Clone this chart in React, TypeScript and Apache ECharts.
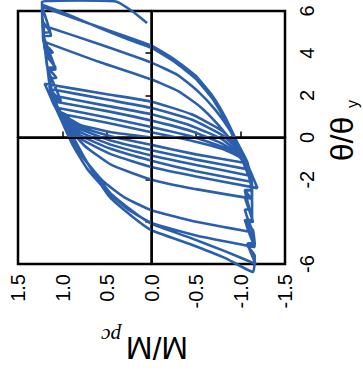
import React, { useEffect, useRef } from "react";
import * as echarts from "echarts";

// Axis ticks
const mTicks = [1.5, 1.0, 0.5, 0.0, -0.5, -1.0, -1.5];
const thetaTicks = [-6, -4, -2, 0, 2, 4, 6];
const hiddenThetaLabels = [-4];

// Hysteresis path, [M/Mpc, theta/theta_y], cycle by cycle
const cycle1 = [[0, 0], [0.45, 0.25], [0.8, 0.6], [1.0, 1.1],
  [0.5, 0.7], [0, 0.25], [-0.45, -0.15], [-0.8, -0.55], [-0.98, -0.9], [-1.04, -1.2]];
const cycle2 = [[-0.5, -0.8], [0, -0.35], [0.45, 0.05], [0.8, 0.5], [0.98, 0.95], [1.05, 1.4],
  [0.5, 0.95], [0, 0.5], [-0.45, 0.05], [-0.8, -0.45], [-1.0, -0.95], [-1.07, -1.5]];
const cycle3 = [[-0.5, -1.05], [0, -0.6], [0.45, -0.15], [0.8, 0.4], [1.0, 1.0], [1.08, 1.7],
  [0.5, 1.25], [0, 0.8], [-0.45, 0.3], [-0.8, -0.3], [-1.0, -0.95], [-1.09, -1.8]];
const cycle4 = [[-0.5, -1.3], [0, -0.85], [0.45, -0.35], [0.8, 0.25], [1.0, 0.95], [1.1, 1.6], [1.12, 2.0],
  [0.5, 1.5], [0, 1.1], [-0.45, 0.55], [-0.8, -0.1], [-1.0, -0.85], [-1.1, -1.6], [-1.12, -2.1]];
const cycle5 = [[-0.5, -1.6], [0, -1.1], [0.45, -0.55], [0.8, 0.1], [1.0, 0.85], [1.1, 1.6], [1.14, 2.3],
  [0.5, 1.8], [0, 1.4], [-0.45, 0.85], [-0.8, 0.1], [-1.0, -0.7], [-1.1, -1.5], [-1.19, -2.4]];
const cycle6 = [[-0.5, -1.85], [0, -1.4], [0.45, -0.8], [0.8, -0.05], [1.0, 0.8], [1.1, 1.6], [1.2, 2.55],
  [0.5, 2.05], [0, 1.7], [-0.45, 1.1], [-0.8, 0.3], [-1.0, -0.6], [-1.1, -1.5], [-1.13, -2.3], [-1.13, -2.9]];
const cycle7 = [[-0.5, -2.45], [0, -2.0], [0.45, -1.3], [0.75, -0.4], [0.92, 0.4], [1.05, 1.3], [1.12, 2.2],
  [1.16, 3.3], [1.08, 3.33], [1.18, 3.9], [1.18, 4.5],
  [0.6, 3.6], [0, 2.75], [-0.3, 2.2], [-0.55, 1.45], [-0.75, 0.6], [-0.92, -0.3], [-1.05, -1.2],
  [-1.12, -2.3], [-1.13, -3.4], [-1.05, -3.43], [-1.14, -4.5]];
const cycle8 = [[-0.5, -4.0], [0, -3.45], [0.3, -2.85], [0.55, -2.05], [0.75, -1.05], [0.9, -0.1],
  [1.02, 0.9], [1.12, 1.9], [1.04, 1.93], [1.17, 3.3], [1.09, 3.33], [1.2, 4.2], [1.21, 5.3],
  [0.6, 4.45], [0, 3.55], [-0.3, 2.95], [-0.52, 2.2], [-0.72, 1.3], [-0.88, 0.35], [-1.0, -0.6],
  [-1.1, -1.6], [-1.13, -2.8], [-1.05, -2.83], [-1.14, -4.0], [-1.06, -4.03], [-1.16, -5.2]];
const cycle9 = [[-0.5, -4.65], [0, -4.05], [0.25, -3.45], [0.5, -2.55], [0.72, -1.5], [0.88, -0.4],
  [1.0, 0.7], [1.1, 1.7], [1.02, 1.73], [1.16, 3.2], [1.08, 3.23], [1.21, 4.8], [1.13, 4.83], [1.23, 6.2],
  [0.6, 5.25], [0, 4.35], [-0.26, 3.7], [-0.49, 2.95], [-0.68, 2.0], [-0.83, 0.95], [-0.96, -0.2],
  [-1.08, -1.2], [-1.13, -2.5], [-1.05, -2.53], [-1.13, -3.9], [-1.05, -3.93], [-1.16, -5.0], [-1.08, -5.03], [-1.17, -6.0]];
const cycle10 = [[-0.83, -5.4], [-0.43, -4.75], [0, -4.1], [0.21, -3.5], [0.47, -2.6], [0.72, -1.2],
  [0.88, 0.0], [1.01, 0.97], [0.93, 1.0], [1.06, 1.3], [1.12, 1.78], [1.04, 1.8], [1.14, 2.3],
  [1.15, 2.8], [1.07, 2.83], [1.17, 3.34], [1.19, 4.0], [1.11, 4.03], [1.21, 4.5], [1.22, 4.96],
  [1.14, 5.0], [1.22, 5.5], [1.23, 6.3],
  [0.92, 5.8], [0.58, 5.19], [0.3, 4.72], [0, 4.25], [-0.26, 3.58], [-0.49, 2.82], [-0.68, 1.87],
  [-0.83, 0.83], [-0.96, -0.36], [-1.08, -1.3], [-1.13, -2.49], [-1.05, -2.5], [-1.13, -3.0],
  [-1.13, -3.91], [-1.05, -3.95], [-1.14, -4.4], [-1.16, -5.1], [-1.08, -5.13], [-1.16, -5.6], [-1.14, -6.38]];
const finalCycle = [[-0.83, -5.72], [-0.43, -5.05], [0, -4.4], [0.21, -3.77], [0.47, -2.82],
  [0.72, -1.21], [0.88, 0.02], [1.01, 0.97], [1.12, 1.78], [1.17, 3.34], [1.22, 4.96], [1.23, 6.45],
  [0.8, 6.5], [0.4, 6.45], [0.22, 6.0], [0.05, 5.43]];

const hysteresis = [
  ...cycle1, ...cycle2, ...cycle3, ...cycle4, ...cycle5, ...cycle6,
  ...cycle7, ...cycle8, ...cycle9, ...cycle10, ...finalCycle,
];

const BLUE = "#2b5fab";

export default function App() {
  const ref = useRef<HTMLDivElement>(null);
  useEffect(() => {
    if (!ref.current) return;
    const chart = echarts.init(ref.current, null, { renderer: "svg" });
    chart.setOption({
      animation: false,
      backgroundColor: "#fff",
      grid: {
        left: 18, top: 11, width: 267, height: 253,
        show: true, borderColor: "#000", borderWidth: 2.5, backgroundColor: "transparent",
      },
      xAxis: {
        type: "value", inverse: true,
        min: mTicks[mTicks.length - 1], max: mTicks[0], interval: 0.5,
        position: "bottom",
        axisLine: { show: true, lineStyle: { color: "#000", width: 2.5 } },
        axisTick: { show: true, inside: true, length: 6, lineStyle: { color: "#000", width: 1.5 } },
        splitLine: { show: false },
        axisLabel: {
          rotate: 90, margin: 10, color: "#000", fontSize: 20, fontFamily: "Liberation Sans",
          formatter: (v: number) => v.toFixed(1),
        },
      },
      yAxis: {
        type: "value", position: "right",
        min: thetaTicks[0], max: thetaTicks[thetaTicks.length - 1], interval: 2,
        axisLine: { show: true, lineStyle: { color: "#000", width: 2.5 } },
        axisTick: { show: true, inside: true, length: 6, lineStyle: { color: "#000", width: 1.5 } },
        splitLine: { show: false },
        axisLabel: {
          rotate: 90, margin: 12, color: "#000", fontSize: 20, fontFamily: "Liberation Sans",
          formatter: (v: number) => (hiddenThetaLabels.includes(v) ? "" : String(v)),
        },
      },
      series: [
        {
          type: "line",
          data: hysteresis,
          showSymbol: false,
          symbol: "none",
          clip: false,
          smooth: 0.15,
          lineStyle: { color: BLUE, width: 2.6 },
          markLine: {
            silent: true, symbol: "none", animation: false,
            label: { show: false },
            lineStyle: { color: "#000", width: 1.8, type: "solid" },
            data: [{ xAxis: 0 }, { yAxis: 0 }],
          },
        },
      ],
      graphic: [
        {
          type: "text", x: 157, y: 348, rotation: Math.PI,
          style: { text: "M/M", fontSize: 32, fontFamily: "Liberation Sans", fill: "#000", align: "center", verticalAlign: "middle" },
        },
        {
          type: "text", x: 111, y: 336, rotation: Math.PI,
          style: { text: "pc", fontSize: 21, fontFamily: "Liberation Serif", fontStyle: "italic", fill: "#000", align: "center", verticalAlign: "middle" },
        },
        {
          type: "text", x: 342, y: 139, rotation: Math.PI / 2,
          style: { text: "θ/θ", fontSize: 32, fontFamily: "Liberation Sans", fill: "#000", align: "center", verticalAlign: "middle" },
        },
        {
          type: "text", x: 352, y: 104, rotation: Math.PI / 2,
          style: { text: "y", fontSize: 16, fontFamily: "Liberation Sans", fill: "#000", align: "center", verticalAlign: "middle" },
        },
      ],
    });
    return () => chart.dispose();
  }, []);
  return <div ref={ref} style={{ position: "fixed", left: 0, top: 0, width: 363, height: 377 }} />;
}
